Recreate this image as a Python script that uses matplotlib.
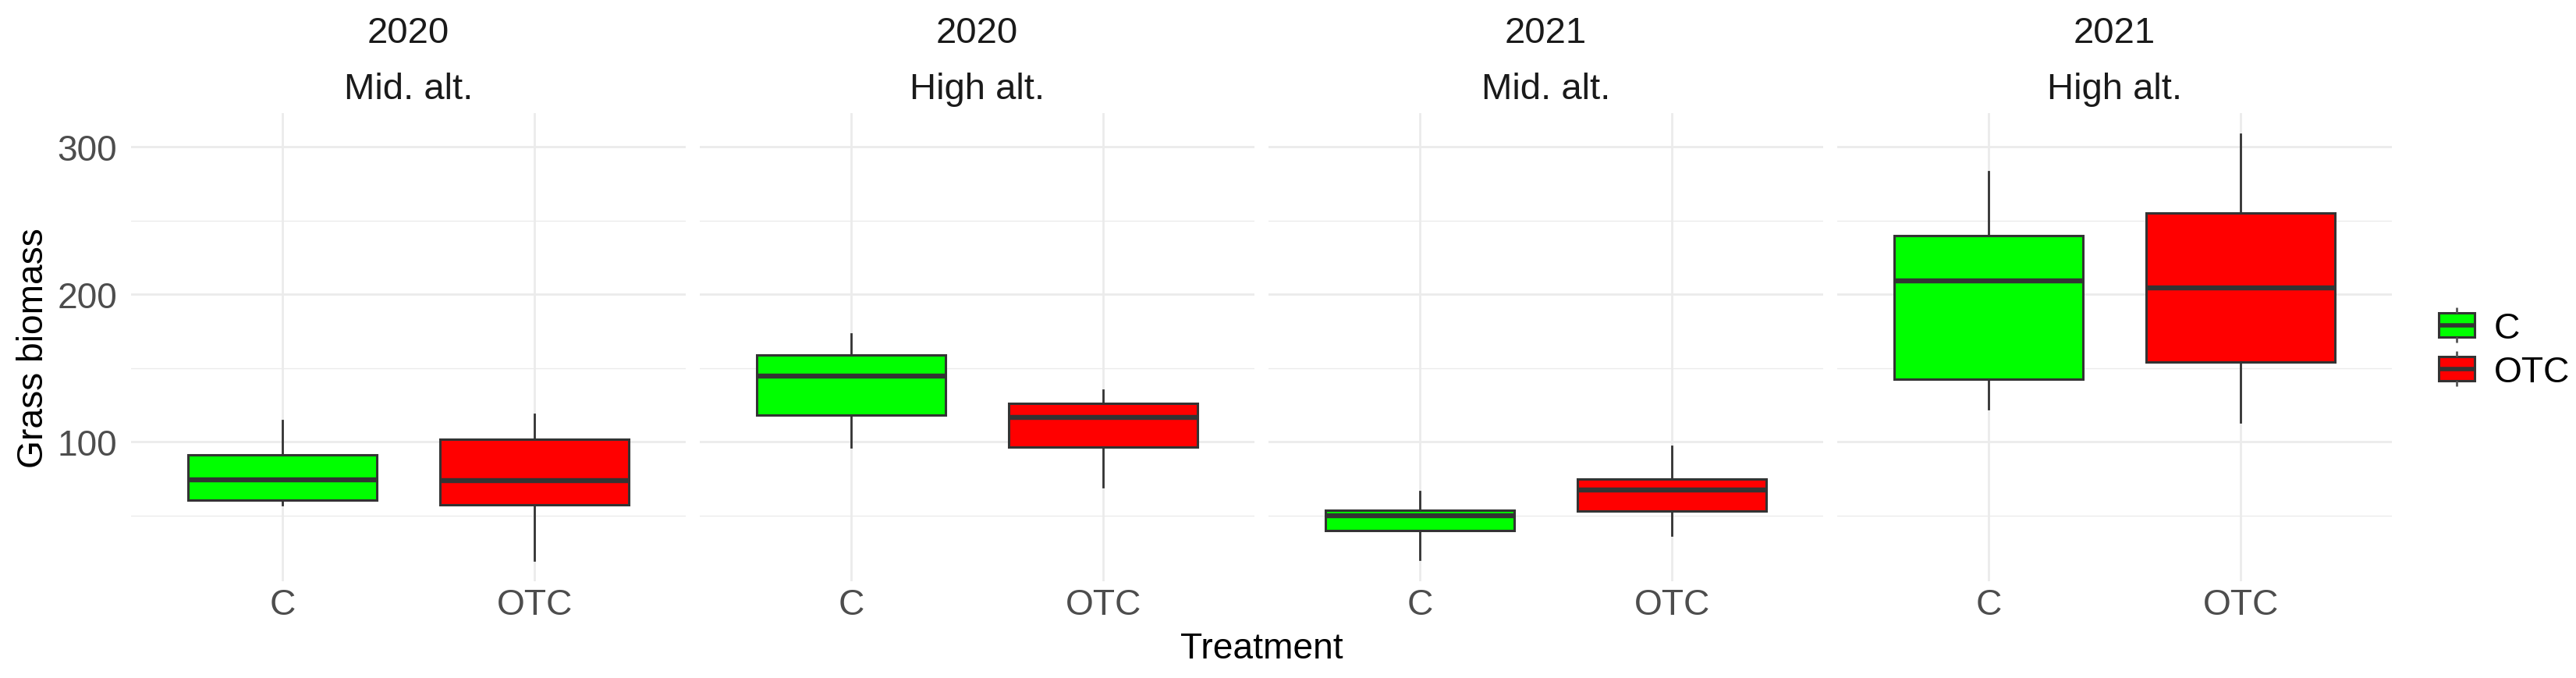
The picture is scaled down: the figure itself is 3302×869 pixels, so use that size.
import numpy as np
import matplotlib
matplotlib.use("Agg")
import matplotlib.pyplot as plt
from matplotlib.patches import Rectangle
from matplotlib.ticker import MultipleLocator

plt.rcParams['font.family'] = ['Liberation Sans', 'DejaVu Sans']

# facet labels
years = ['2020', '2020', '2021', '2021']
alts = ['Mid. alt.', 'High alt.', 'Mid. alt.', 'High alt.']
treatments = ['C', 'OTC']
fills = {'C': '#00FF00', 'OTC': '#FF0000'}

c_whislo = [57.2, 96.5, 20.5, 122.6]
c_q1 = [60.4, 118.1, 40.0, 142.3]
c_med = [74.2, 144.6, 50.0, 209.0]
c_q3 = [91.0, 159.0, 53.8, 240.0]
c_whishi = [114.7, 173.5, 66.5, 283.1]

otc_whislo = [20.0, 69.7, 36.9, 113.4]
otc_q1 = [57.2, 96.5, 53.4, 154.0]
otc_med = [73.6, 116.6, 67.3, 204.5]
otc_q3 = [102.0, 126.4, 75.0, 255.3]
otc_whishi = [118.8, 135.1, 97.0, 308.5]

W, H = 3302, 870
DPI = 200
fig = plt.figure(figsize=(W / DPI, H / DPI), dpi=DPI)


def fx(px):
    return px / W


def fy(py):
    return 1 - py / H


# y range like ggplot: 5% expansion of the data range
lo = min(min(c_whislo), min(otc_whislo))
hi = max(max(c_whishi), max(otc_whishi))
pad = 0.05 * (hi - lo)

panel_left = [168, 897, 1626, 2355]
panel_w = 711
panel_top, panel_bot = 146, 746
grid_col = '#EBEBEB'
line_col = '#333333'

for i in range(4):
    ax = fig.add_axes([fx(panel_left[i]), fy(panel_bot), panel_w / W, (panel_bot - panel_top) / H])
    stats = [
        dict(label='C', whislo=c_whislo[i], q1=c_q1[i], med=c_med[i], q3=c_q3[i], whishi=c_whishi[i]),
        dict(label='OTC', whislo=otc_whislo[i], q1=otc_q1[i], med=otc_med[i], q3=otc_q3[i], whishi=otc_whishi[i]),
    ]
    bp = ax.bxp(stats, positions=[1, 2], widths=0.75, patch_artist=True,
                showfliers=False, showcaps=False,
                boxprops=dict(edgecolor=line_col, linewidth=1.1),
                medianprops=dict(color=line_col, linewidth=2.3, solid_capstyle='butt'),
                whiskerprops=dict(color=line_col, linewidth=1.0))
    for patch, t in zip(bp['boxes'], treatments):
        patch.set_facecolor(fills[t])

    ax.set_xlim(0.4, 2.6)
    ax.set_ylim(lo - pad, hi + pad)
    ax.yaxis.set_major_locator(MultipleLocator(100))
    ax.yaxis.set_minor_locator(MultipleLocator(50))
    ax.set_axisbelow(True)
    ax.grid(which='major', color=grid_col, linewidth=1.0)
    ax.grid(which='minor', axis='y', color=grid_col, linewidth=0.5)
    for s in ax.spines.values():
        s.set_visible(False)
    ax.tick_params(which='both', length=0)
    ax.tick_params(axis='x', labelsize=16.6, labelcolor='#4D4D4D', pad=3)
    ax.tick_params(axis='y', labelsize=16.6, labelcolor='#4D4D4D', pad=6.5)
    if i > 0:
        ax.set_yticklabels([])

    cx = panel_left[i] + panel_w / 2
    fig.text(fx(cx), fy(55), years[i], ha='center', va='baseline', fontsize=17, color='#1A1A1A')
    fig.text(fx(cx), fy(127), alts[i], ha='center', va='baseline', fontsize=17, color='#1A1A1A')

# axis titles
fig.text(fx(43), fy((panel_top + panel_bot) / 2), 'Grass biomass', rotation=90,
         ha='center', va='center', fontsize=16.6, color='black')
fig.text(fx((panel_left[0] + panel_left[-1] + panel_w) / 2), fy(832), 'Treatment',
         ha='center', va='center', fontsize=16.6, color='black')

# legend drawn in pixel space
leg = fig.add_axes([fx(3100), fy(520), 202 / W, 150 / H])
leg.set_xlim(3100, 3302)
leg.set_ylim(520, 370)
leg.axis('off')
key_tops = [402, 458]
for t, top in zip(treatments, key_tops):
    kx0, kx1 = 3126, 3172
    kh = 31
    xm = (kx0 + kx1) / 2
    leg.plot([xm, xm], [top - 7, top], color='#555555', lw=1.0, solid_capstyle='butt')
    leg.plot([xm, xm], [top + kh, top + kh + 7], color='#555555', lw=1.0, solid_capstyle='butt')
    leg.add_patch(Rectangle((kx0, top), kx1 - kx0, kh, facecolor=fills[t], edgecolor=line_col, lw=1.1))
    leg.plot([kx0, kx1], [top + kh / 2, top + kh / 2], color=line_col, lw=2.0, solid_capstyle='butt')
    leg.text(3197, top + kh / 2 + 16.5, t, ha='left', va='baseline', fontsize=16.6, color='black')

fig.savefig('out.png', dpi=DPI, facecolor='white')
